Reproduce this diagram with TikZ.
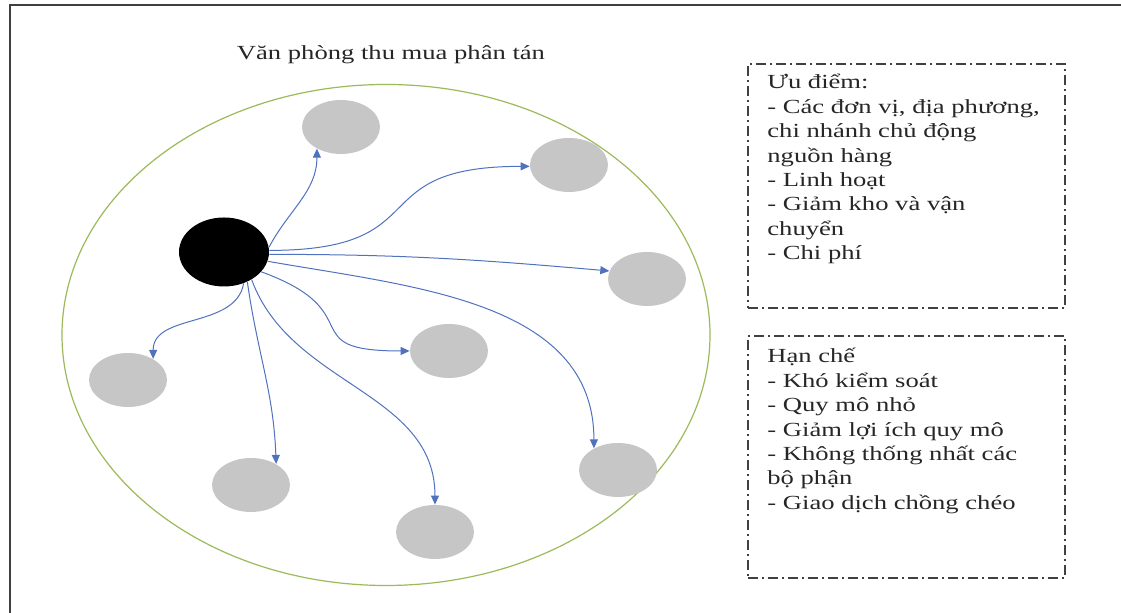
\documentclass[tikz,border=0pt]{standalone}
\usepackage{fontspec}
\setmainfont[FakeStretch=1.33]{Liberation Serif}
\usetikzlibrary{shapes.geometric,arrows.meta}
\definecolor{ringgreen}{RGB}{155,187,89}
\definecolor{linkblue}{RGB}{79,113,190}
\definecolor{branchgray}{RGB}{198,198,198}
\definecolor{notegray}{RGB}{64,64,64}

\begin{document}
\begin{tikzpicture}[x = 0.5pt, y = 0.5pt,
	office/.style = {draw = ringgreen, line width = 0.6pt, ellipse, minimum width = 324pt, minimum height = 250.5pt},
	hub/.style = {fill = black, ellipse, minimum width = 45pt, minimum height = 34.5pt, inner sep = 0pt},
	branch/.style = {fill = branchgray, ellipse, minimum width = 39pt, minimum height = 27pt, inner sep = 0pt},
	link/.style = {->, draw = linkblue, line width = 0.5pt},
	note/.style = {draw = notegray, line width = 0.8pt, dash pattern = on 5pt off 2pt on 1pt off 2pt, minimum width = 158.5pt, inner sep = 0pt},
	notetext/.style = {anchor = base west, inner sep = 0pt, text width = 148pt, align = left, text = black!85, font = \fontsize{10pt}{12.2pt}\selectfont},
	>={Triangle[length = 4.5pt, width = 4pt]}]
					\useasboundingbox (0,0) rectangle (1121,613);
					\draw[line width = 1pt, color = black!75] (1121,608) -- (10,608) -- (10,0);
					\node[text = black!85, font = \fontsize{10pt}{12pt}\selectfont] (T) at (391,558) {Văn phòng thu mua phân tán};
					\node[office] (O) at (386,278) {};
					\node[hub] (H) at (224,361) {};
					\node[branch] (B1) at (341,486) {};
					\node[branch] (B2) at (569,448) {};
					\node[branch] (B3) at (647,334) {};
					\node[branch] (B4) at (449,262) {};
					\node[branch] (B5) at (128,233) {};
					\node[branch] (B6) at (251,128) {};
					\node[branch] (B7) at (435,81) {};
					\node[branch] (B8) at (618,143) {};
					\draw[link] (H.6) to[out = 62, in = 270] (B1.222);
					\draw[link] (H.2) to[out = 0, in = 180, looseness = 1.6] (B2.182);
					\draw[link] (H.-3) to[out = 0, in = 175] (B3.168);
					\draw[link] (H.-12) to[out = -10, in = 90] (B8.138);
					\draw[link] (H.-28) to[out = -20, in = 180, looseness = 1.8] (B4.180);
					\draw[link] (H.-45) to[out = -70, in = 90] (B7.90);
					\draw[link] (H.-52) to[out = -82, in = 92] (B6.40);
					\draw[link] (H.-58) to[out = -100, in = 90] (B5.40);
					\node[note, minimum height = 122pt] (P) at (906.5,427) {};
					\node[note, minimum height = 121pt] (L) at (906.5,156) {};
					\node[notetext] (PT) at (767,524) {Ưu điểm:\\- Các đơn vị, địa phương,\\chi nhánh chủ động\\nguồn hàng\\- Linh hoạt\\- Giảm kho và vận\\chuyển\\- Chi phí};
					\node[notetext] (LT) at (767,250) {Hạn chế\\- Khó kiểm soát\\- Quy mô nhỏ\\- Giảm lợi ích quy mô\\- Không thống nhất các\\bộ phận\\- Giao dịch chồng chéo};
				\end{tikzpicture}
\end{document}
